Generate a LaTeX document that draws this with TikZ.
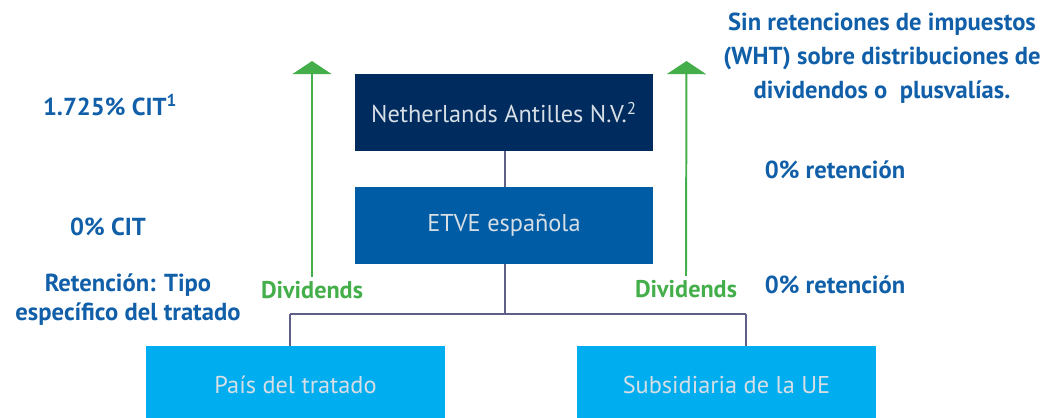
\documentclass[tikz,border=0pt]{standalone}
\usepackage{fontspec}
\setmainfont{PT Sans}
\usepackage{tikz}
\usetikzlibrary{positioning}
\usetikzlibrary{arrows.meta}

\definecolor{navybox}{RGB}{0,43,94}
\definecolor{etvebox}{RGB}{0,92,164}
\definecolor{skybox}{RGB}{0,173,239}
\definecolor{divgreen}{RGB}{68,174,74}
\definecolor{noteblue}{RGB}{16,95,168}
\definecolor{linkgray}{RGB}{94,96,136}
\definecolor{boxtext}{RGB}{214,222,230}

\begin{document}
\begin{tikzpicture}[x=0.025cm, y=-0.025cm,
	entity/.style={fill=#1, text=boxtext, align=center, inner sep=0pt,
	minimum height=1.925cm, minimum width=7.45cm, font=\fontsize{17.3}{20}\selectfont},
	entity/.default=skybox,
	link/.style={draw=linkgray, line width=1pt},
	flow/.style={-{Triangle[width=0.98cm, length=0.33cm]}, line width=1.4pt, draw=divgreen},
	flowtext/.style={text=divgreen, font=\fontsize{17.2}{20}\selectfont\bfseries, inner sep=0pt},
	note/.style={text=noteblue, align=center, inner sep=0pt, font=\fontsize{17.5}{24.2}\selectfont\bfseries}]
	
	\clip (0,0) rectangle (1048,417);
	\useasboundingbox (0,0) rectangle (1048,417);
	
	\node [entity=navybox] (antilles) at (504,112.5) {Netherlands Antilles N.V.\textsuperscript{2}};
	\node [entity=etvebox] (etve) at (504,225.5) {ETVE española};
	\node [entity] (pais) at (295.5,384.5) {País del tratado};
	\node [entity] (subs) at (726.5,384.5) {Subsidiaria de la UE};
	
	\coordinate (jl) at (290,314);
	\coordinate (jr) at (746,314);
	\draw [link] (antilles.south -| 505,0) -- (etve.north -| 505,0);
	\draw [link] (etve.south -| 505,0) -- (jl -| 505,0);
	\draw [link] (jl) -- (jr);
	\draw [link] (jl) -- (jl |- pais.north);
	\draw [link] (jr) -- (jr |- subs.north);
	
	\node [flowtext] (divl) at (312,290) {Dividends};
	\node [flowtext] (divr) at (686,289) {Dividends};
	\coordinate (tipl) at (312,61);
	\coordinate (tipr) at (686.5,61);
	\draw [flow] (divl.north) ++(0,-4) -- (tipl);
	\draw [flow] (divr.north) ++(0,-4) -- (tipr);
	
	\node [note] (cit) at (110,105) {1.725\% CIT\textsuperscript{1}};
	\node [note] (zerocit) at (108,227) {0\% CIT};
	\node [note, font=\fontsize{17.5}{20.6}\selectfont\bfseries] (wht) at (128,299.5) {Retención: Tipo\\específico del tratado};
	\node [note] (sinret) at (882,58) {Sin retenciones de impuestos\\(WHT) sobre distribuciones de\\dividendos o~ plusvalías.};
	\node [note] (ret1) at (835,170) {0\% retención};
	\node [note] (ret2) at (835,285) {0\% retención};
\end{tikzpicture}
\end{document}
